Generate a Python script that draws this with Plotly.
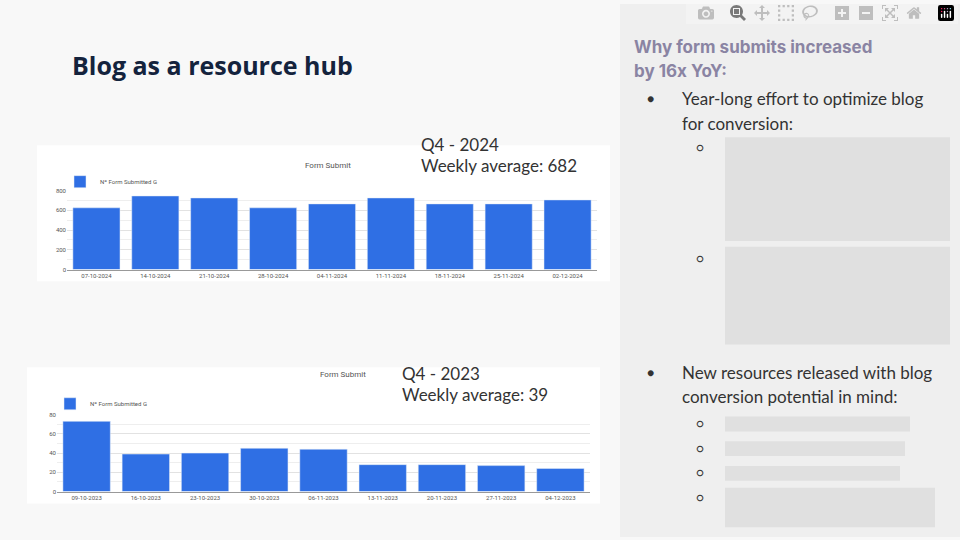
import plotly.graph_objects as go

# Q4 2024 weekly form submits
semanas_2024 = ["07-10-2024", "14-10-2024", "21-10-2024", "28-10-2024", "04-11-2024",
                "11-11-2024", "18-11-2024", "25-11-2024", "02-12-2024"]
valores_2024 = [625, 745, 725, 625, 665, 725, 665, 665, 705]

# Q4 2023 weekly form submits
semanas_2023 = ["09-10-2023", "16-10-2023", "23-10-2023", "30-10-2023", "06-11-2023",
                "13-11-2023", "20-11-2023", "27-11-2023", "04-12-2023"]
valores_2023 = [73, 39, 40, 45, 44, 28, 28, 27, 24]

W, H = 960, 540
AZUL = "#2f6fe4"


def px_x(v):
    return v / W


def px_y(v):
    return 1 - v / H


fig = go.Figure()
fig.add_trace(go.Bar(x=semanas_2024, y=valores_2024, marker_color=AZUL, name="Nº Form Submitted G",
                     xaxis="x", yaxis="y", legend="legend", width=0.8))
fig.add_trace(go.Bar(x=semanas_2023, y=valores_2023, marker_color=AZUL, name="Nº Form Submitted G",
                     xaxis="x2", yaxis="y2", legend="legend2", width=0.8))

eixo_x = dict(showgrid=False, showline=True, linecolor="#999", tickfont=dict(size=6, color="#555", family="Roboto"),
              tickangle=0, fixedrange=True)
eixo_y = dict(showgrid=True, gridcolor="#e2e2e2", zeroline=False, tickfont=dict(size=6, color="#555", family="Roboto"),
              ticks="", minor=dict(showgrid=True, gridcolor="#eeeeee"))

shapes = [
    # right panel
    dict(type="rect", xref="paper", yref="paper", x0=px_x(620), x1=1, y0=0, y1=1,
         fillcolor="#efefef", line_width=0, layer="below"),
    # chart cards
    dict(type="rect", xref="paper", yref="paper", x0=px_x(37), x1=px_x(610), y0=px_y(281), y1=px_y(143),
         fillcolor="white", line_width=0, layer="below"),
    dict(type="rect", xref="paper", yref="paper", x0=px_x(27), x1=px_x(600), y0=px_y(506), y1=px_y(368),
         fillcolor="white", line_width=0, layer="below"),
]

# blurred (hidden) sub-bullet text
blocos = [(725, 950, 135, 240), (725, 950, 246, 345), (725, 910, 418, 433), (725, 905, 443, 458),
          (725, 900, 468, 483), (725, 935, 490, 530)]
for x0, x1, y0, y1 in blocos:
    shapes.append(dict(type="rect", xref="paper", yref="paper", x0=px_x(x0), x1=px_x(x1),
                       y0=px_y(y1), y1=px_y(y0), fillcolor="#dcdcdc", opacity=0.8,
                       line_width=0, layer="below"))


def texto(x, y, t, size=17, color="#333", bold=False, family="Lato"):
    return dict(x=px_x(x), y=px_y(y), xref="paper", yref="paper", text=f"<b>{t}</b>" if bold else t,
                showarrow=False, xanchor="left", yanchor="middle",
                font=dict(size=size, color=color, family=family))


annotations = [
    texto(70, 62, "Blog as a resource hub", size=25, color="#14233d", bold=True, family="Open Sans"),
    texto(419, 142, "Q4 - 2024", size=17),
    texto(419, 164, "Weekly average: 682", size=17),
    texto(400, 374, "Q4 - 2023", size=17),
    texto(400, 396, "Weekly average: 39", size=17),
    dict(x=px_x(328), y=px_y(157), xref="paper", yref="paper", text="Form Submit", showarrow=False,
         font=dict(size=8, color="#555", family="Roboto")),
    dict(x=px_x(318), y=px_y(382), xref="paper", yref="paper", text="Form Submit", showarrow=False,
         font=dict(size=8, color="#555", family="Roboto")),
    texto(632, 44, "Why form submits increased", size=17, color="#8a84a3", bold=True, family="Inter"),
    texto(632, 68, "by 16x YoY:", size=17, color="#8a84a3", bold=True, family="Inter"),
    texto(645, 96, "●", size=12),
    texto(680, 96, "Year-long effort to optimize blog", size=17),
    texto(680, 121, "for conversion:", size=17),
    texto(645, 373, "●", size=12),
    texto(680, 373, "New resources released with blog", size=17),
    texto(680, 398, "conversion potential in mind:", size=17),
]
for yy in [145, 258, 425, 450, 475, 500]:
    annotations.append(texto(694, yy, "○", size=12))

fig.update_layout(
    width=W, height=H, margin=dict(l=0, r=0, t=0, b=0),
    paper_bgcolor="#f8f8f8", plot_bgcolor="white", bargap=0.2,
    xaxis=dict(eixo_x, domain=[px_x(67), px_x(597)], anchor="y"),
    yaxis=dict(eixo_y, domain=[px_y(269), px_y(189)], range=[0, 800], dtick=200,
               minor_dtick=100, anchor="x"),
    xaxis2=dict(eixo_x, domain=[px_x(57), px_x(590)], anchor="y2"),
    yaxis2=dict(eixo_y, domain=[px_y(494), px_y(416)], range=[0, 80], dtick=20,
                minor_dtick=10, anchor="x2"),
    legend=dict(x=px_x(60), y=px_y(180), xanchor="left", yanchor="middle", bgcolor="rgba(0,0,0,0)",
                font=dict(size=6, color="#555", family="Roboto"), itemwidth=30),
    legend2=dict(x=px_x(50), y=px_y(405), xanchor="left", yanchor="middle", bgcolor="rgba(0,0,0,0)",
                 font=dict(size=6, color="#555", family="Roboto"), itemwidth=30),
    shapes=shapes, annotations=annotations, showlegend=True,
)

fig.write_html("out.html", post_script="document.body.style.margin='0';")
